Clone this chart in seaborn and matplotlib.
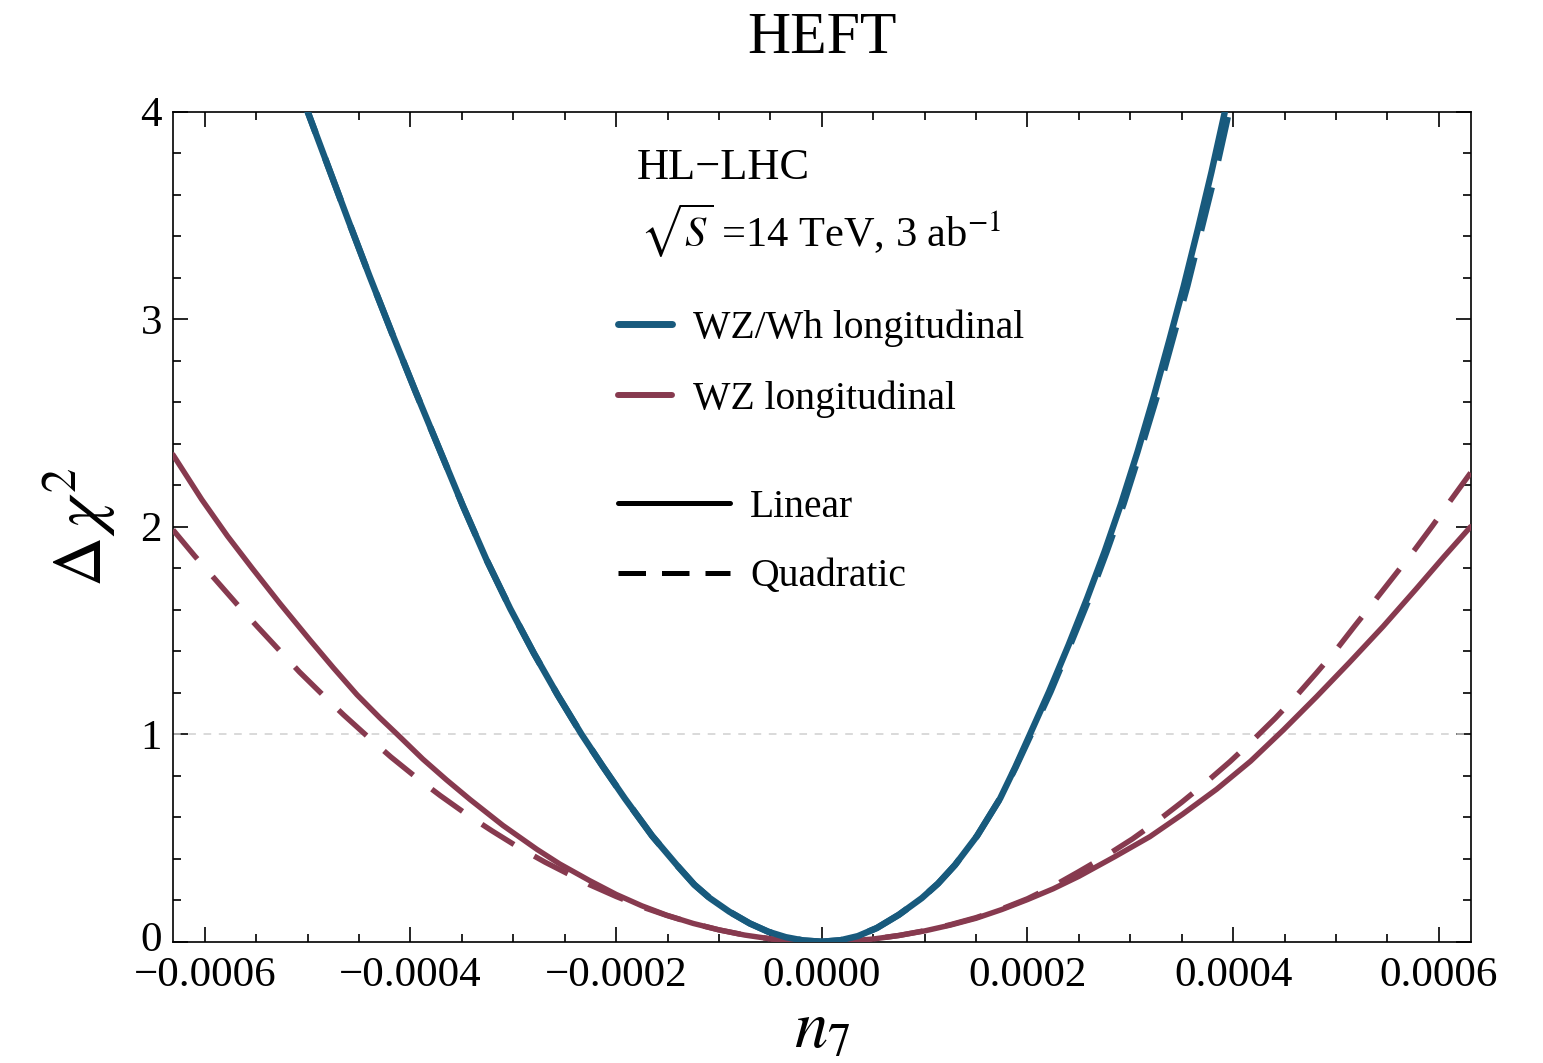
import matplotlib
matplotlib.use("Agg")
import matplotlib.pyplot as plt
from matplotlib.ticker import MultipleLocator
from matplotlib.lines import Line2D
from matplotlib.transforms import ScaledTranslation
import pandas as pd
import seaborn as sns

# Delta chi^2 profiles versus the HEFT coefficient n7 (x values in units of 1e-4)
wzwh_lin_n7 = [-5.08, -5.00, -4.80, -4.60, -4.40, -4.18, -3.95, -3.72, -3.49, -3.26,
               -3.03, -2.80, -2.57, -2.337, -2.13, -1.915, -1.65, -1.397, -1.24, -1.089,
               -0.90, -0.70, -0.52, -0.35, -0.18, 0.0,
               0.18, 0.35, 0.535, 0.75, 0.972, 1.13, 1.296, 1.51, 1.734, 1.88, 2.025,
               2.21, 2.40, 2.58, 2.75, 2.91, 3.07, 3.23, 3.38, 3.52, 3.66, 3.79, 3.92, 3.97]
wzwh_lin_chi2 = [4.10, 4.00, 3.735, 3.47, 3.21, 2.933, 2.65, 2.375, 2.10, 1.84,
                 1.605, 1.39, 1.19, 1.00, 0.845, 0.69, 0.51, 0.362, 0.275, 0.21,
                 0.145, 0.088, 0.048, 0.022, 0.006, 0.0,
                 0.007, 0.027, 0.066, 0.13, 0.21, 0.28, 0.37, 0.51, 0.69, 0.84, 1.00,
                 1.205, 1.43, 1.655, 1.88, 2.11, 2.36, 2.63, 2.90, 3.16, 3.44, 3.71, 4.00, 4.10]

wzwh_quad_n7 = [-5.08, -5.00, -4.80, -4.60, -4.40, -4.18, -3.95, -3.72, -3.49, -3.26,
                -3.03, -2.80, -2.57, -2.337, -2.13, -1.915, -1.65, -1.397, -1.24, -1.089,
                -0.90, -0.70, -0.52, -0.35, -0.18, 0.0,
                0.18, 0.35, 0.535, 0.75, 0.972, 1.13, 1.296, 1.51, 1.734, 1.885, 2.035,
                2.225, 2.415, 2.60, 2.77, 2.935, 3.095, 3.26, 3.41, 3.555, 3.695, 3.83, 3.96, 4.01]
wzwh_quad_chi2 = [4.10, 4.00, 3.735, 3.47, 3.21, 2.933, 2.65, 2.375, 2.10, 1.84,
                  1.605, 1.39, 1.19, 1.00, 0.845, 0.69, 0.51, 0.362, 0.275, 0.21,
                  0.145, 0.088, 0.048, 0.022, 0.006, 0.0,
                  0.007, 0.027, 0.066, 0.13, 0.21, 0.28, 0.37, 0.51, 0.69, 0.84, 1.00,
                  1.205, 1.43, 1.655, 1.88, 2.11, 2.36, 2.63, 2.90, 3.16, 3.44, 3.71, 4.00, 4.10]

wz_lin_n7 = [-6.31, -6.03, -5.78, -5.54, -5.27, -4.98, -4.75, -4.52, -4.30, -4.13,
             -3.88, -3.65, -3.42, -3.10, -2.77, -2.55, -2.26, -2.00, -1.75, -1.51,
             -1.25, -1.00, -0.75, -0.50, -0.25, 0.0,
             0.25, 0.50, 0.75, 1.00, 1.25, 1.50, 1.75, 2.00, 2.25, 2.50, 2.85, 3.19,
             3.51, 3.84, 4.17, 4.49, 4.81, 5.13, 5.46, 5.78, 6.05, 6.31]
wz_lin_chi2 = [2.347, 2.131, 1.955, 1.80, 1.63, 1.455, 1.32, 1.19, 1.08, 1.00,
               0.88, 0.78, 0.685, 0.56, 0.445, 0.375, 0.295, 0.228, 0.173, 0.128,
               0.088, 0.057, 0.032, 0.014, 0.004, 0.0,
               0.003, 0.013, 0.03, 0.052, 0.08, 0.113, 0.155, 0.203, 0.255, 0.315, 0.41,
               0.506, 0.615, 0.735, 0.87, 1.021, 1.18, 1.345, 1.52, 1.70, 1.855, 2.00]

wz_quad_n7 = [-6.31, -6.10, -5.89, -5.69, -5.49, -5.28, -5.08, -4.86, -4.65, -4.42,
              -4.19, -3.95, -3.71, -3.46, -3.21, -2.95, -2.69, -2.48, -2.26, -2.00,
              -1.75, -1.51, -1.25, -1.00, -0.75, -0.50, -0.25, 0.0,
              0.25, 0.50, 0.75, 1.00, 1.25, 1.50, 1.75, 2.00, 2.25, 2.49, 2.75, 3.02,
              3.26, 3.50, 3.73, 3.97, 4.19, 4.41, 4.61, 4.81, 5.00, 5.18, 5.38, 5.57,
              5.76, 5.94, 6.12, 6.31]
wz_quad_chi2 = [1.985, 1.86, 1.741, 1.628, 1.519, 1.407, 1.30, 1.193, 1.093, 0.99,
                0.89, 0.794, 0.704, 0.616, 0.535, 0.455, 0.383, 0.33, 0.275, 0.218,
                0.168, 0.127, 0.088, 0.057, 0.032, 0.014, 0.004, 0.0,
                0.003, 0.013, 0.03, 0.053, 0.082, 0.116, 0.158, 0.207, 0.268, 0.335,
                0.41, 0.495, 0.58, 0.672, 0.765, 0.868, 0.97, 1.077, 1.182, 1.295,
                1.405, 1.52, 1.645, 1.765, 1.885, 2.005, 2.13, 2.26]

N7_UNIT = 1e-4

x_ticks = [-0.0006, -0.0004, -0.0002, 0.0, 0.0002, 0.0004, 0.0006]
x_tick_labels = ["\u22120.0006", "\u22120.0004", "\u22120.0002", "0.0000",
                 "0.0002", "0.0004", "0.0006"]
y_ticks = [0, 1, 2, 3, 4]
y_tick_labels = ["0", "1", "2", "3", "4"]

channels = ["WZ/Wh longitudinal", "WZ longitudinal"]
orders = ["Linear", "Quadratic"]

BLUE = "#185a7d"
MAROON = "#873a4f"

sns.set_theme(style="ticks")
plt.rcParams["font.family"] = ["Liberation Serif", "DejaVu Serif"]
plt.rcParams["mathtext.fontset"] = "stix"
plt.rcParams["text.color"] = "black"
plt.rcParams["axes.labelcolor"] = "black"

fig = plt.figure(figsize=(15.43, 10.63), dpi=100)
ax = fig.add_axes([0.1121, 0.1141, 0.8410, 0.7808])

dash = (0, (7.0, 4.3))

# reference line at Delta chi^2 = 1
ax.axhline(1.0, color="#d0d0d0", lw=1.1, ls=(0, (5, 5)), zorder=1)

curves = [
    (wz_lin_n7, wz_lin_chi2, MAROON, "-", 3.9),
    (wz_quad_n7, wz_quad_chi2, MAROON, dash, 3.9),
    (wzwh_lin_n7, wzwh_lin_chi2, BLUE, "-", 4.6),
    (wzwh_quad_n7, wzwh_quad_chi2, BLUE, dash, 4.6),
]
for xs, ys, col, ls, lw in curves:
    df = pd.DataFrame({"n7": [v * N7_UNIT for v in xs], "chi2": ys})
    sns.lineplot(data=df, x="n7", y="chi2", ax=ax, color=col, linestyle=ls,
                 linewidth=lw, estimator=None, sort=False, legend=False, zorder=3)

ax.set_xlim(-6.31e-4, 6.31e-4)
ax.set_ylim(0, 4)
ax.set_xticks(x_ticks, labels=x_tick_labels)
ax.set_yticks(y_ticks, labels=y_tick_labels)
ax.xaxis.set_minor_locator(MultipleLocator(5e-5))
ax.yaxis.set_minor_locator(MultipleLocator(0.2))
ax.tick_params(which="both", direction="in", top=True, right=True, color="black",
               width=1.2, labelsize=31, labelcolor="black")
ax.tick_params(which="major", length=11)
ax.tick_params(axis="x", which="major", pad=11)
ax.tick_params(axis="y", which="major", pad=8)
ax.tick_params(which="minor", length=6)
for s in ax.spines.values():
    s.set_color("black")
    s.set_linewidth(1.2)

# lift the lowest y label slightly so it clears the first x label
zero_lbl = ax.get_yticklabels()[0]
zero_lbl.set_transform(zero_lbl.get_transform()
                       + ScaledTranslation(0, 4 / 72, fig.dpi_scale_trans))

ax.set_xlabel(r"$n_7$", fontsize=48, labelpad=3)
ax.set_ylabel(r"$\Delta\,\chi^2$", fontsize=50, labelpad=16)
ax.set_title("HEFT", fontsize=43, pad=42)

ax.text(0.3576, 0.932, "HL\u2212LHC", transform=ax.transAxes, fontsize=32,
        ha="left", va="center")
ax.text(0.360, 0.857, r"$\sqrt{S}$ =14 TeV, 3 ab$^{-1}$", transform=ax.transAxes,
        fontsize=30.5, ha="left", va="center")

leg_fs = 28.5
h_channels = [Line2D([], [], color=BLUE, lw=5.0), Line2D([], [], color=MAROON, lw=4.3)]
leg1 = ax.legend(h_channels, channels, loc="upper left", bbox_to_anchor=(0.343, 0.762),
                 frameon=False, fontsize=leg_fs, handlelength=1.36, handletextpad=0.53,
                 labelspacing=0.85, borderpad=0, borderaxespad=0, labelcolor="black")
ax.add_artist(leg1)
h_orders = [Line2D([], [], color="black", lw=3.6),
            Line2D([], [], color="black", lw=3.6, ls=(0, (5.5, 3.2)))]
ax.legend(h_orders, orders, loc="upper left", bbox_to_anchor=(0.343, 0.546),
          frameon=False, fontsize=leg_fs, handlelength=2.83, handletextpad=0.5,
          labelspacing=0.83, borderpad=0, borderaxespad=0, labelcolor="black")

fig.savefig("out.png", dpi=100, facecolor="white")
